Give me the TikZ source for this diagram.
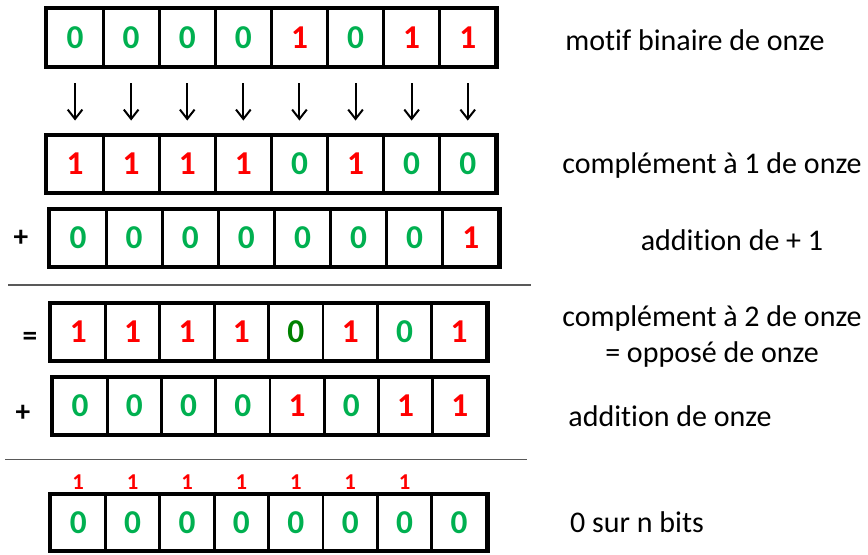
\documentclass[tikz,border=0pt]{standalone}
\usepackage{fontspec}
\setmainfont{Carlito}[RawFeature={-liga;-clig;-dlig;-calt}]
\usepackage{xcolor}
\usepackage{tikz}
\usetikzlibrary{arrows.meta}
\definecolor{vert}{RGB}{0,176,80}
\definecolor{vertfonce}{RGB}{0,130,0}
\definecolor{rouge}{RGB}{255,0,0}
\tikzset{>=stealth}
\tikzset{
  case/.style={draw, line width=2.2pt, inner sep=0pt, font=\fontsize{25}{25}\selectfont\bfseries},
  cadre/.style={line width=3pt},
  etiquette/.style={font=\fontsize{22.5}{27}\selectfont, align=center},
  signe/.style={font=\fontsize{22}{22}\selectfont\bfseries},
  retenue/.style={font=\fontsize{17}{17}\selectfont\bfseries, text=rouge},
  fleche/.style={-{Straight Barb[length=7pt,width=11pt]}, line width=1.5pt, shorten <=12pt, shorten >=10.5pt},
  trait/.style={gray!70!black, line width=1.2pt}
}

\begin{document}
\begin{tikzpicture}[x=0.75pt,y=-0.75pt]
        \useasboundingbox (0,0) rectangle (868,554);
        % motif binaire de onze
        \foreach \c/\d [count=\i] in {vert/0,vert/0,vert/0,vert/0,rouge/1,vert/0,rouge/1,rouge/1}
          \node[case, minimum width=42.1pt, minimum height=42.75pt, text=\c] (a\i) at ({47+56.1*(\i-0.5)},37.5) {\d};
        \draw[cadre] (a1.north west) rectangle (a8.south east);
        % complement a 1
        \foreach \c/\d [count=\i] in {rouge/1,rouge/1,rouge/1,rouge/1,vert/0,rouge/1,vert/0,vert/0}
          \node[case, minimum width=42.1pt, minimum height=42pt, text=\c] (b\i) at ({47+56.1*(\i-0.5)},164) {\d};
        \draw[cadre] (b1.north west) rectangle (b8.south east);
        \foreach \i in {1,...,8}
          \draw[fleche] (a\i.south) -- (b\i.north);
        % + 1
        \node[signe] (plusun) at (21,238) {+};
        \foreach \c/\d [count=\i] in {vert/0,vert/0,vert/0,vert/0,vert/0,vert/0,vert/0,rouge/1}
          \node[case, minimum width=42.1pt, minimum height=42pt, text=\c] (c\i) at ({50+56.1*(\i-0.5)},238) {\d};
        \draw[cadre] (c1.north west) rectangle (c8.south east);
        \draw[trait] (8,285) -- (531,285);
        % complement a 2
        \node[signe] (egal) at (30,339) {=};
        \foreach \c/\d [count=\i] in {rouge/1,rouge/1,rouge/1,rouge/1,vertfonce/0,rouge/1,vert/0,rouge/1}
          \node[case, minimum width=40.8pt, minimum height=42pt, text=\c] (d\i) at ({51+54.4*(\i-0.5)},332) {\d};
        \draw[cadre] (d1.north west) rectangle (d8.south east);
        % + onze
        \node[signe] (plusonze) at (23,413) {+};
        \foreach \c/\d [count=\i] in {vert/0,vert/0,vert/0,vert/0,rouge/1,vert/0,rouge/1,rouge/1}
          \node[case, minimum width=40.7pt, minimum height=42pt, text=\c] (e\i) at ({53+54.25*(\i-0.5)},406) {\d};
        \draw[cadre] (e1.north west) rectangle (e8.south east);
        \draw[trait] (5,459.5) -- (527,459.5);
        % resultat
        \foreach \i in {1,...,8}
          \node[case, minimum width=40.8pt, minimum height=41.25pt, text=vert] (f\i) at ({51+54.4*(\i-0.5)},522.5) {0};
        \draw[cadre] (f1.north west) rectangle (f8.south east);
        \foreach \i in {1,...,7}
          \node[retenue] (r\i) at ({51+54.4*(\i-0.5)},482) {1};
        % textes
        \node[etiquette] (motif) at (695,40) {motif binaire de onze};
        \node[etiquette] (cun) at (712,165) {complément à 1 de onze};
        \node[etiquette] (addun) at (732,240) {addition de + 1};
        \node[etiquette] (cdeux) at (712,336) {complément à 2 de onze\\= opposé de onze};
        \node[etiquette] (addonze) at (670,416) {addition de onze};
        \node[etiquette] (zero) at (637,522) {0 sur n bits};
      \end{tikzpicture}
\end{document}
